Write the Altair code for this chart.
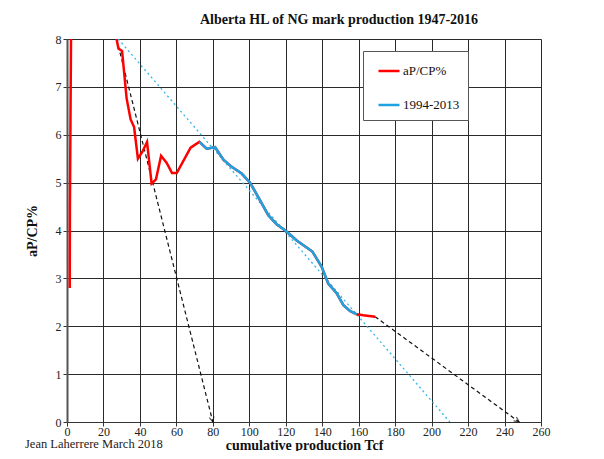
import altair as alt
import pandas as pd

# ---- data ----
# early years (steep rise, leaves chart at top)
red_a_x = [1.5, 1.6, 2.2]
red_a_y = [2.8, 4.5, 8.0]
# re-enters at top of chart
red_b_x = [27.2, 28.2, 30.2, 32.7, 34.9, 36.8, 38.9, 41.3, 43.9,
           46.4, 48.8, 51.6, 54.7, 57.6, 60.2, 67.8, 72.6, 76.6, 81.2, 85.8, 90.3, 95.8,
           100.4, 105.9, 110.4, 115.0, 120.1, 126.0, 134.6, 139.7, 143.3, 147.9, 151.6,
           155.2, 158.9, 162.5, 169.0]
red_b_y = [8.0, 7.8, 7.75, 6.76, 6.32, 6.16, 5.5, 5.64, 5.85,
           4.98, 5.07, 5.56, 5.41, 5.2, 5.2, 5.73, 5.85, 5.71, 5.74, 5.48, 5.33, 5.19,
           5.0, 4.63, 4.32, 4.13, 3.99, 3.79, 3.56, 3.24, 2.89, 2.69, 2.44,
           2.32, 2.25, 2.23, 2.2]

blue_x = [72.6, 76.6, 81.2, 85.8, 90.3, 95.8, 100.4, 105.9, 110.4, 115.0, 120.1, 126.0,
          134.6, 139.7, 143.3, 147.9, 151.6, 155.2, 158.9]
blue_y = [5.85, 5.71, 5.74, 5.48, 5.33, 5.19, 5.0, 4.63, 4.32, 4.13, 3.99, 3.79,
          3.56, 3.24, 2.89, 2.69, 2.44, 2.32, 2.25]

# trend lines
black1_x = [27.2, 80.0]
black1_y = [8.0, 0.0]
black2_x = [169.0, 248.0]
black2_y = [2.2, 0.0]
cyan_x = [28.1, 210.0]
cyan_y = [8.0, 0.0]

arrow_x = [80.0, 248.0]
arrow_y = [0.0, 0.0]
arrow_angle = [346, 306]

series_names = ["aP/CP%", "1994-2013"]
series_colors = ["#ff0000", "#1fa3e0"]

FONT = "Liberation Serif, Times New Roman, serif"

rows = []
k = 0
for x, y in zip(red_a_x, red_a_y):
    rows.append({"cp": x, "v": y, "series": series_names[0], "seg": "ra", "idx": k}); k += 1
for x, y in zip(red_b_x, red_b_y):
    rows.append({"cp": x, "v": y, "series": series_names[0], "seg": "rb", "idx": k}); k += 1
for x, y in zip(blue_x, blue_y):
    rows.append({"cp": x, "v": y, "series": series_names[1], "seg": "b", "idx": k}); k += 1
main_df = pd.DataFrame(rows)

black_df = pd.DataFrame(
    [{"cp": x, "v": y, "line": "a"} for x, y in zip(black1_x, black1_y)]
    + [{"cp": x, "v": y, "line": "b"} for x, y in zip(black2_x, black2_y)]
)
cyan_df = pd.DataFrame({"cp": cyan_x, "v": cyan_y})
arrow_df = pd.DataFrame({"cp": arrow_x, "v": arrow_y, "ang": arrow_angle})

xs = alt.Scale(domain=[0, 260], nice=False, zero=False)
ys = alt.Scale(domain=[0, 8], nice=False)

x_axis = alt.Axis(
    title="cumulative production Tcf", values=list(range(0, 261, 20)),
    labelFont=FONT, labelFontSize=12, labelColor="#222", labelPadding=0,
    labelOverlap=False, labelFlush=False, labelBound=False,
    tickSize=4, tickColor="#333", domainColor="#333",
    grid=True, gridColor="#2a2a2a", gridWidth=1,
    titleFont=FONT, titleFontSize=14, titleFontWeight="bold", titleColor="#111",
    titleY=27, titleBaseline="alphabetic",
)
y_axis = alt.Axis(
    title="aP/CP%", values=list(range(0, 9)),
    labelFont=FONT, labelFontSize=12, labelColor="#222", labelPadding=2,
    labelOverlap=False, labelFlush=False,
    tickSize=4, tickColor="#333", domainColor="#555", domainWidth=2,
    grid=True, gridColor="#2a2a2a", gridWidth=1,
    titleFont=FONT, titleFontSize=14, titleFontWeight="bold", titleColor="#111",
    titleX=-35, titleY=191.5, titleAngle=270, titleAlign="center", titleBaseline="middle",
)

X = alt.X("cp:Q", scale=xs, axis=x_axis)
Y = alt.Y("v:Q", scale=ys, axis=y_axis)

cyan = alt.Chart(cyan_df).mark_line(
    color="#35b6ec", strokeWidth=1.3, strokeDash=[2, 3], clip=True
).encode(x=X, y=Y)

black = alt.Chart(black_df).mark_line(
    color="#111", strokeWidth=1.2, strokeDash=[4, 3], clip=True
).encode(x=X, y=Y, detail="line:N")

arrows = alt.Chart(arrow_df).mark_point(
    shape="M-0.8,-1.7L0,0L0.8,-1.7", size=36, filled=False,
    color="#111", strokeWidth=1.2
).encode(
    x=X, y=Y,
    angle=alt.Angle("ang:Q", scale=None),
)

main = alt.Chart(main_df).mark_line(strokeWidth=2.5, clip=True).encode(
    x=X,
    y=Y,
    color=alt.Color(
        "series:N",
        scale=alt.Scale(domain=series_names, range=series_colors),
        sort=series_names,
        legend=alt.Legend(
            title=None, orient="none", legendX=296, legendY=12,
            symbolType="stroke", symbolSize=441, symbolStrokeWidth=2.5,
            symbolOffset=6, labelOffset=2,
            labelFont=FONT, labelFontSize=13, labelColor="#111",
            labelExpr="datum.label + '  '",
            padding=8, rowPadding=15,
            fillColor="white", strokeColor="#555",
        ),
    ),
    detail="seg:N",
    order=alt.Order("idx:Q"),
)

credit = alt.Chart(pd.DataFrame({"t": ["Jean Laherrere March 2018"]})).mark_text(
    font=FONT, fontSize=12.5, color="#222", align="left", baseline="alphabetic"
).encode(x=alt.value(-42), y=alt.value(409), text="t:N")

chart = alt.layer(
    cyan, black, arrows, main, credit
).properties(
    width=474, height=383,
    title=alt.TitleParams(
        "Alberta HL of NG mark production 1947-2016",
        font=FONT, fontSize=14, fontWeight="bold", color="#111",
        anchor="middle", dx=35, offset=6,
    ),
    autosize=alt.AutoSizeParams(type="none"),
    padding={"left": 59, "top": 31, "right": 55, "bottom": 29},
).configure_view(
    stroke="#777", strokeWidth=1.5
).configure(
    background="white"
)

chart.save("out.html", embed_options={"renderer": "svg", "actions": False})
